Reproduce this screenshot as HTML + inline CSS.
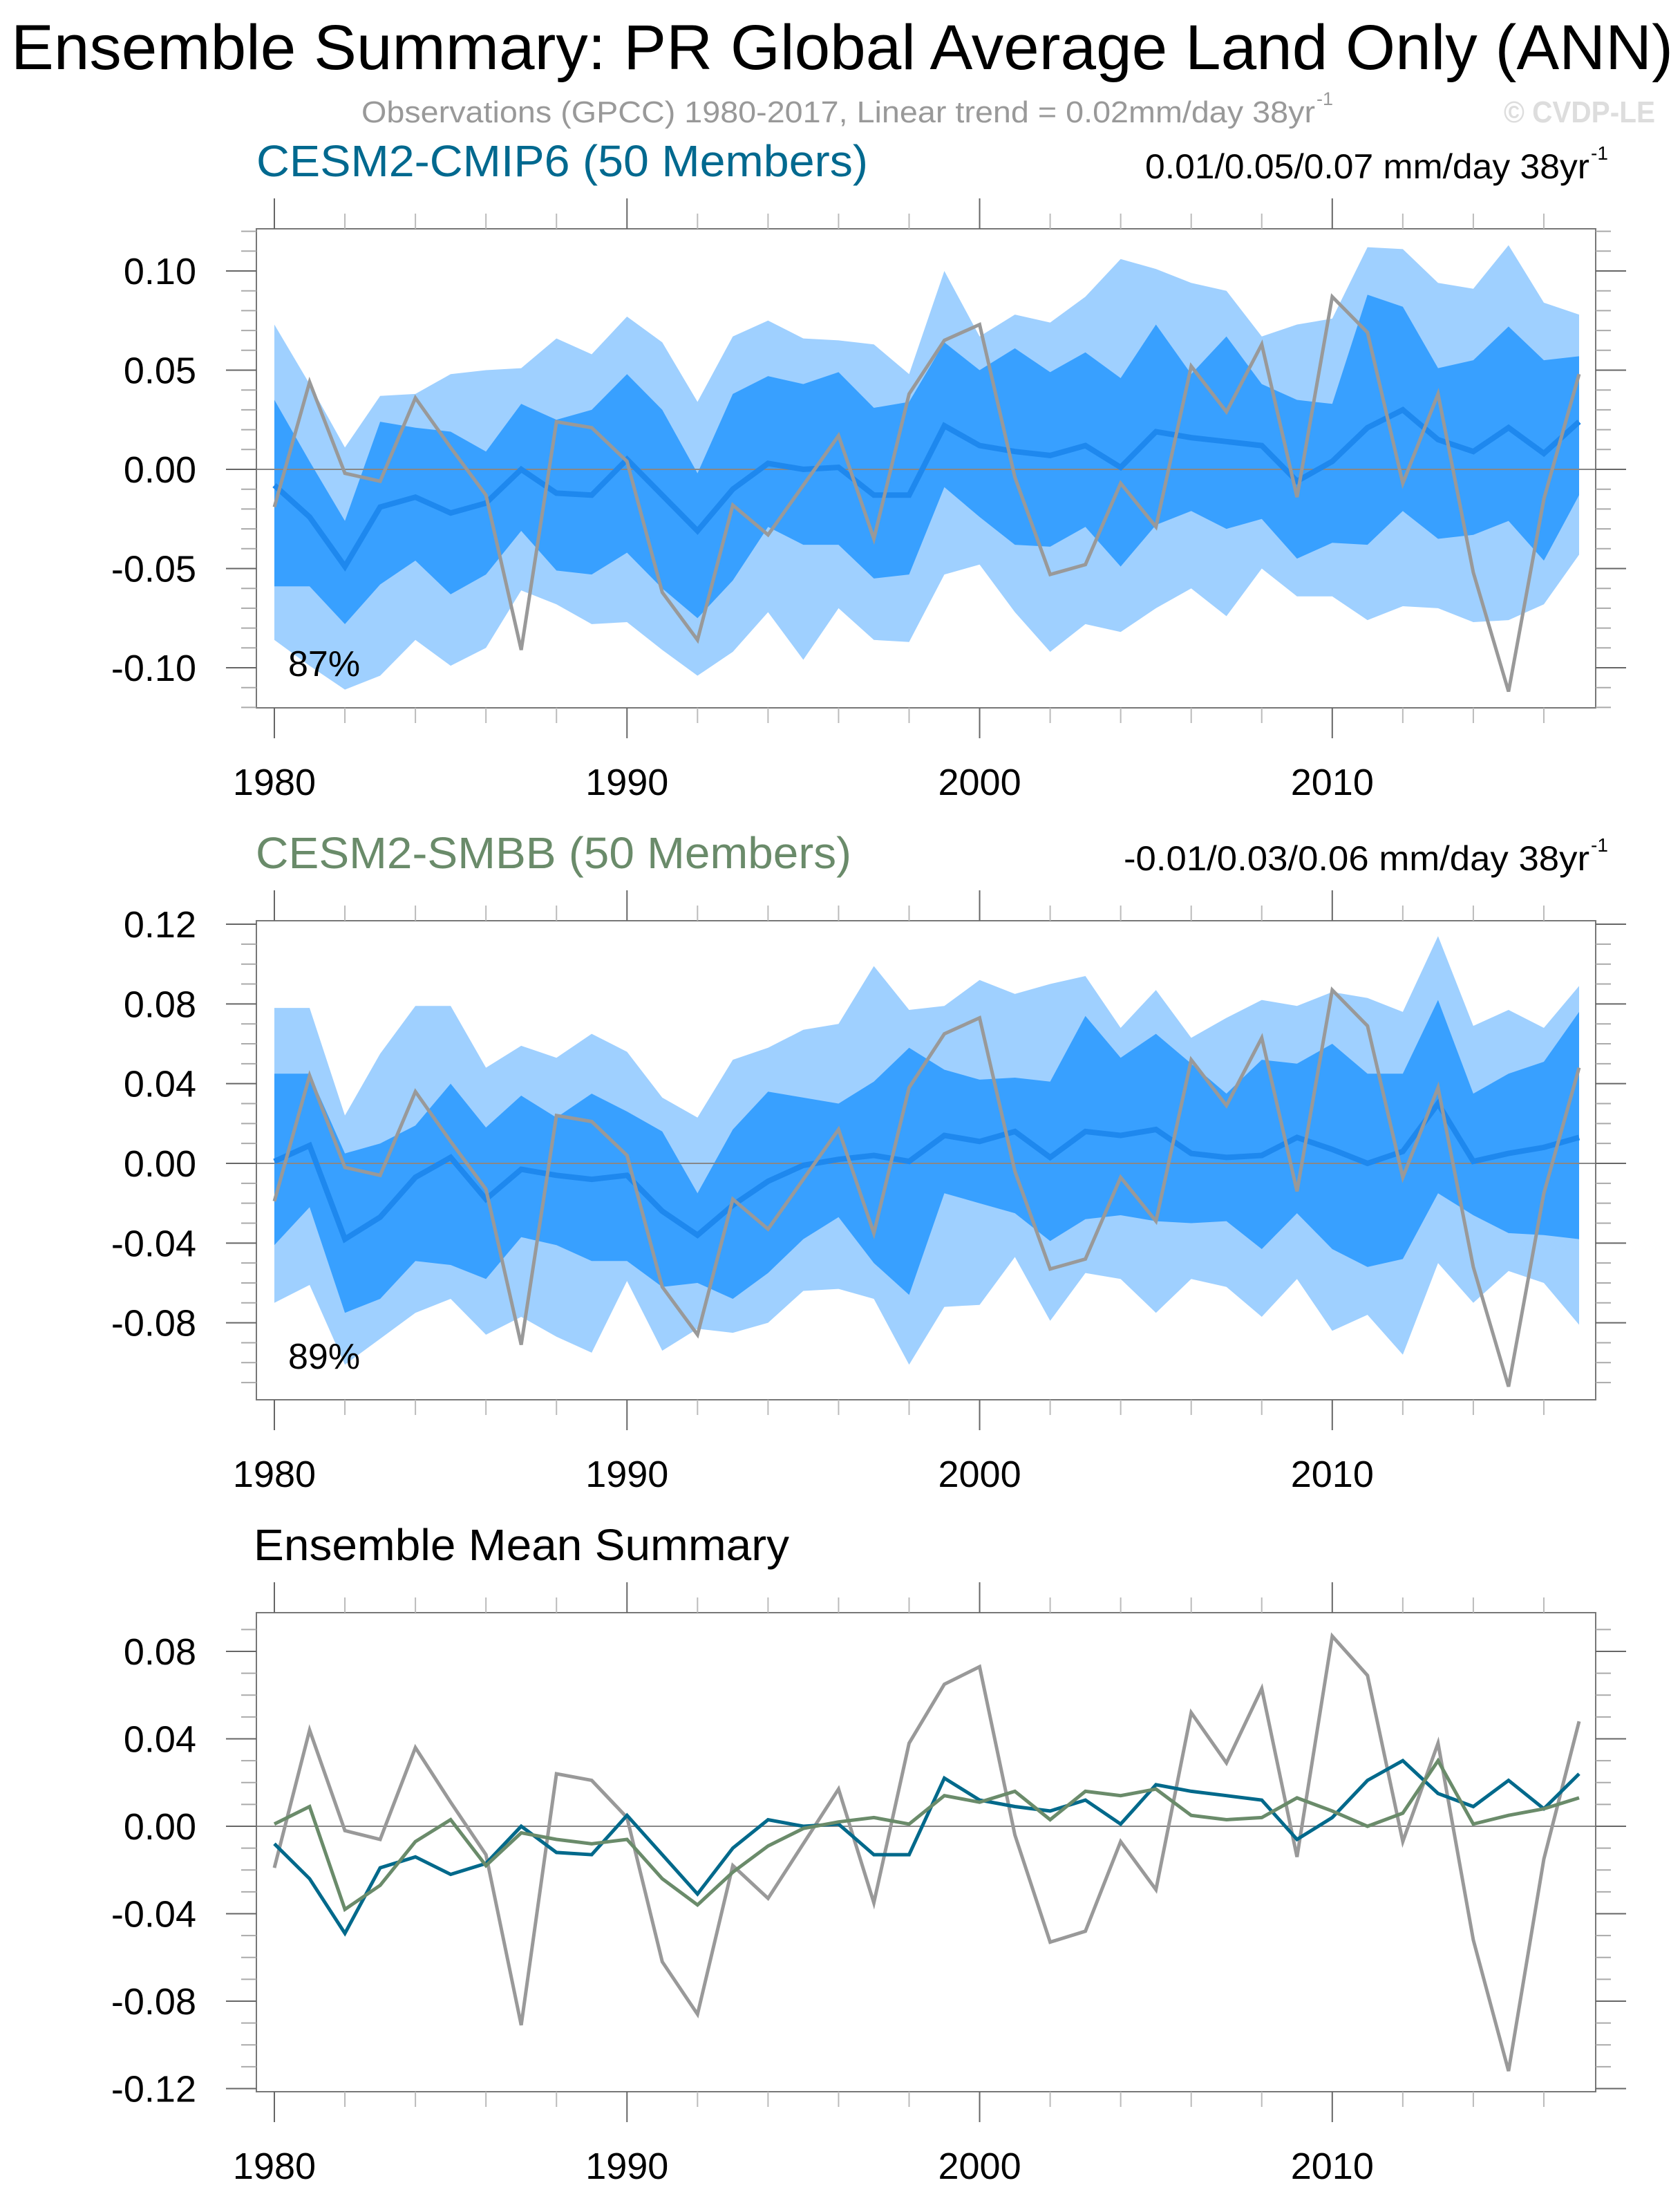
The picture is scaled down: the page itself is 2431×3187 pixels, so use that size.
<!DOCTYPE html>
<html><head><meta charset="utf-8"><style>
html,body{margin:0;padding:0;background:#fff;}
svg{display:block;font-family:"Liberation Sans",Arial,sans-serif;}
</style></head><body>
<svg id="chart" width="2431" height="3187" viewBox="0 0 2431 3187" xmlns="http://www.w3.org/2000/svg">
<rect width="2431" height="3187" fill="#fff"/>
<text x="16" y="100" font-size="92" textLength="2405" lengthAdjust="spacingAndGlyphs">Ensemble Summary: PR Global Average Land Only (ANN)</text>
<text x="523" y="177" font-size="44" fill="#999" textLength="1380" lengthAdjust="spacingAndGlyphs">Observations (GPCC) 1980-2017, Linear trend = 0.02mm/day 38yr</text>
<text x="1905" y="152" font-size="27" fill="#999">-1</text>
<text x="2176" y="177" font-size="44" font-weight="bold" fill="#ddd" textLength="219" lengthAdjust="spacingAndGlyphs">© CVDP-LE</text>
<g id="panels"></g>
</svg>
<script>
const years = [];
for (let y = 1980; y <= 2017; y++) years.push(y);

const obs = [-0.019,0.044,-0.002,-0.006,0.036,0.011,-0.013,-0.091,0.024,0.021,0.004,-0.062,-0.086,-0.018,-0.033,-0.008,0.017,-0.035,0.038,0.065,0.073,-0.004,-0.053,-0.048,-0.007,-0.029,0.052,0.029,0.063,-0.014,0.087,0.069,-0.007,0.038,-0.052,-0.112,-0.015,0.048];

const cmipMean = [-0.008,-0.024,-0.049,-0.019,-0.014,-0.022,-0.017,0.000,-0.012,-0.013,0.005,-0.013,-0.031,-0.010,0.003,0.000,0.001,-0.013,-0.013,0.022,0.012,0.009,0.007,0.012,0.001,0.019,0.016,0.014,0.012,-0.006,0.004,0.021,0.030,0.015,0.009,0.021,0.008,0.024];
const cmipHi95 = [0.073,0.043,0.011,0.037,0.038,0.048,0.050,0.051,0.066,0.058,0.077,0.064,0.034,0.067,0.075,0.066,0.065,0.063,0.048,0.100,0.067,0.078,0.074,0.087,0.106,0.101,0.094,0.090,0.067,0.073,0.076,0.112,0.111,0.094,0.091,0.113,0.084,0.078];
const cmipLo95 = [-0.086,-0.099,-0.111,-0.104,-0.086,-0.099,-0.090,-0.061,-0.068,-0.078,-0.077,-0.091,-0.104,-0.092,-0.072,-0.096,-0.070,-0.086,-0.087,-0.053,-0.048,-0.072,-0.092,-0.078,-0.082,-0.070,-0.060,-0.074,-0.050,-0.064,-0.064,-0.076,-0.069,-0.070,-0.077,-0.076,-0.068,-0.043];
const cmipHi67 = [0.035,0.004,-0.026,0.024,0.021,0.019,0.009,0.033,0.025,0.030,0.048,0.030,-0.002,0.038,0.047,0.043,0.049,0.031,0.034,0.064,0.050,0.061,0.049,0.059,0.046,0.073,0.048,0.067,0.043,0.035,0.033,0.088,0.082,0.051,0.055,0.072,0.055,0.057];
const cmipLo67 = [-0.059,-0.059,-0.078,-0.058,-0.046,-0.063,-0.053,-0.031,-0.051,-0.053,-0.042,-0.060,-0.075,-0.056,-0.029,-0.038,-0.038,-0.055,-0.053,-0.009,-0.024,-0.038,-0.039,-0.029,-0.049,-0.028,-0.021,-0.030,-0.025,-0.045,-0.037,-0.038,-0.021,-0.035,-0.033,-0.026,-0.046,-0.013];

const smbbMean = [0.001,0.009,-0.038,-0.027,-0.007,0.003,-0.018,-0.003,-0.006,-0.008,-0.006,-0.024,-0.036,-0.021,-0.009,-0.001,0.002,0.004,0.001,0.014,0.011,0.016,0.003,0.016,0.014,0.017,0.005,0.003,0.004,0.013,0.007,0.000,0.006,0.030,0.001,0.005,0.008,0.013];
const smbbHi95 = [0.078,0.078,0.024,0.055,0.079,0.079,0.048,0.059,0.053,0.065,0.056,0.033,0.023,0.052,0.058,0.067,0.070,0.099,0.077,0.079,0.092,0.085,0.090,0.094,0.068,0.087,0.063,0.073,0.082,0.079,0.086,0.083,0.076,0.114,0.069,0.077,0.068,0.089];
const smbbLo95 = [-0.070,-0.061,-0.101,-0.088,-0.075,-0.068,-0.086,-0.077,-0.087,-0.095,-0.059,-0.094,-0.083,-0.085,-0.080,-0.064,-0.063,-0.068,-0.101,-0.072,-0.071,-0.047,-0.079,-0.055,-0.058,-0.075,-0.058,-0.062,-0.077,-0.058,-0.084,-0.076,-0.096,-0.050,-0.070,-0.054,-0.060,-0.081];
const smbbHi67 = [0.045,0.045,0.005,0.010,0.019,0.040,0.018,0.034,0.023,0.035,0.026,0.016,-0.015,0.017,0.036,0.033,0.030,0.041,0.058,0.047,0.042,0.043,0.041,0.074,0.053,0.065,0.050,0.035,0.052,0.050,0.060,0.045,0.045,0.082,0.035,0.045,0.051,0.076];
const smbbLo67 = [-0.041,-0.022,-0.075,-0.068,-0.049,-0.051,-0.058,-0.037,-0.041,-0.049,-0.049,-0.062,-0.060,-0.068,-0.055,-0.038,-0.027,-0.050,-0.066,-0.015,-0.020,-0.025,-0.039,-0.028,-0.026,-0.029,-0.030,-0.029,-0.043,-0.025,-0.043,-0.052,-0.048,-0.015,-0.026,-0.035,-0.036,-0.038];

const xTickYears = [1980,1990,2000,2010];
const p1Ticks = [0.10,0.05,0.00,-0.05,-0.10];
const p1Labels = ["0.10","0.05","0.00","-0.05","-0.10"];
const p2Ticks = [0.12,0.08,0.04,0.00,-0.04,-0.08];
const p2Labels = ["0.12","0.08","0.04","0.00","-0.04","-0.08"];
const p3Ticks = [0.08,0.04,0.00,-0.04,-0.08,-0.12];
const p3Labels = ["0.08","0.04","0.00","-0.04","-0.08","-0.12"];

const NS = "http://www.w3.org/2000/svg";
const root = document.getElementById('panels');
function mk(tag, attrs, parent){
  const e = document.createElementNS(NS, tag);
  for (const k in attrs) e.setAttribute(k, attrs[k]);
  (parent||root).appendChild(e);
  return e;
}
const L = 371, R = 2309;
function xs(yr){ return 397 + (yr - 1980) * (2285 - 397) / 37; }

function panel(cfg){
  const g = mk('g', {});
  
  
  const ys = v => cfg.zero - v * cfg.scale;
  const vmax = (cfg.zero - cfg.top) / cfg.scale, vmin = (cfg.zero - cfg.bottom) / cfg.scale;
  function band(hi, lo, color, nm){
    let d = '';
    years.forEach((y,i)=>{ d += (i?'L':'M') + xs(y).toFixed(1) + ',' + ys(hi[i]).toFixed(1); });
    for (let i = years.length-1; i >= 0; i--) d += 'L' + xs(years[i]).toFixed(1) + ',' + ys(lo[i]).toFixed(1);
    const p = mk('path', {d: d+'Z', fill: color}, g);
    
    
  }
  function line(arr, color, w, nm){
    const pts = years.map((y,i)=> xs(y).toFixed(1)+','+ys(arr[i]).toFixed(1)).join(' ');
    const p = mk('polyline', {points: pts, fill:'none', stroke: color, 'stroke-width': w, 'stroke-linejoin':'miter'}, g);
    
    
  }
  if (cfg.bands){
    band(cfg.bands[0], cfg.bands[1], '#9fd0ff', 'band-95-percent');
    band(cfg.bands[2], cfg.bands[3], '#38a0ff', 'band-67-percent');
  }
  const zl = mk('line', {x1:L, x2:R, y1:ys(0), y2:ys(0), stroke:'#888', 'stroke-width':2}, g);
  
  
  cfg.lines.forEach(l => line(l[0], l[1], l[2], l[3]));
  const fr = mk('rect', {x:L, y:cfg.top, width:R-L, height:cfg.bottom-cfg.top, fill:'none', stroke:'#777', 'stroke-width':2}, g);
  
  
  for (let k = Math.ceil(vmin*100); k <= Math.floor(vmax*100); k++){
    const v = k/100, y = ys(v);
    const major = cfg.ticks.some(t => Math.abs(t - v) < 1e-6);
    const len = major ? 44 : 22, col = major ? '#666' : '#aaa';
    mk('line', {x1:L-len, x2:L, y1:y, y2:y, stroke:col, 'stroke-width':2}, g);
    mk('line', {x1:R, x2:R+len, y1:y, y2:y, stroke:col, 'stroke-width':2}, g);
  }
  cfg.ticks.forEach((t,i)=>{
    const tx = mk('text', {x:284, y:ys(t)+19, 'font-size':54, 'text-anchor':'end'}, g);
    tx.textContent = cfg.labels[i];
    
    
  });
  for (let yr = 1980; yr <= 2017; yr += 2){
    const major = yr % 10 === 0, x = xs(yr);
    const len = major ? 44 : 22, col = major ? '#666' : '#bbb';
    mk('line', {x1:x, x2:x, y1:cfg.top-len, y2:cfg.top, stroke:col, 'stroke-width':2}, g);
    mk('line', {x1:x, x2:x, y1:cfg.bottom, y2:cfg.bottom+len, stroke:col, 'stroke-width':2}, g);
  }
  xTickYears.forEach(yr=>{
    const tx = mk('text', {x:xs(yr), y:cfg.bottom+126, 'font-size':54, 'text-anchor':'middle'}, g);
    tx.textContent = String(yr);
    
    
  });
  const tt = mk('text', {x:cfg.titleX, y:cfg.top-76, 'font-size':64, fill:cfg.titleColor, textLength:cfg.titleW, lengthAdjust:'spacingAndGlyphs'}, g);
  tt.textContent = cfg.title;
  
  
  if (cfg.right){
    const rt = mk('text', {x:cfg.rightX, y:cfg.top-73, 'font-size':50, textLength:2300-cfg.rightX, lengthAdjust:'spacingAndGlyphs'}, g);
    rt.textContent = cfg.right;
    
    
    const sp = mk('text', {x:2302, y:cfg.top-100, 'font-size':28}, g);
    sp.textContent = '-1';
    
    
  }
  if (cfg.pct){
    const pt = mk('text', {x:417, y:cfg.pctY, 'font-size':52}, g);
    pt.textContent = cfg.pct;
    
    
  }
}

panel({name:'cesm2-cmip6-panel', top:331, bottom:1024, zero:679, scale:2870, ticks:p1Ticks, labels:p1Labels,
  bands:[cmipHi95, cmipLo95, cmipHi67, cmipLo67],
  lines:[[cmipMean,'#1e88ee',8,'ensemble-mean-line'],[obs,'#999',5,'observations-line']],
  title:'CESM2-CMIP6 (50 Members)', titleX:371, titleW:885, titleColor:'#00698f', right:'0.01/0.05/0.07 mm/day 38yr', rightX:1657, pct:'87%', pctY:978});
panel({name:'cesm2-smbb-panel', top:1332, bottom:2025, zero:1683, scale:2883, ticks:p2Ticks, labels:p2Labels,
  bands:[smbbHi95, smbbLo95, smbbHi67, smbbLo67],
  lines:[[smbbMean,'#1e88ee',8,'ensemble-mean-line'],[obs,'#999',5,'observations-line']],
  title:'CESM2-SMBB (50 Members)', titleX:370, titleW:862, titleColor:'#6a8b6a', right:'-0.01/0.03/0.06 mm/day 38yr', rightX:1626, pct:'89%', pctY:1980});
panel({name:'ensemble-mean-summary-panel', top:2333, bottom:3026, zero:2642, scale:3162, ticks:p3Ticks, labels:p3Labels,
  bands:null,
  lines:[[obs,'#999',5,'observations-line'],[cmipMean,'#00698b',5,'cesm2-cmip6-mean-line'],[smbbMean,'#6a8b6a',5,'cesm2-smbb-mean-line']],
  title:'Ensemble Mean Summary', titleX:367, titleW:775, titleColor:'#000', right:null, pct:null});
</script>
</body></html>
